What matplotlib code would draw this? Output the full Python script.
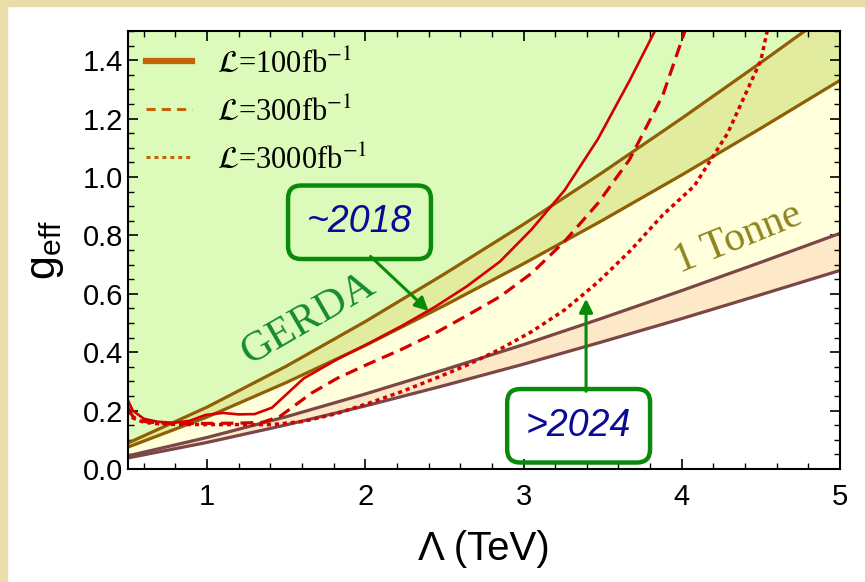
import numpy as np
import matplotlib
matplotlib.use("Agg")
import matplotlib.pyplot as plt
from matplotlib.lines import Line2D
from matplotlib.patches import Rectangle
from matplotlib.ticker import MultipleLocator, FormatStrFormatter

plt.rcParams['font.family'] = ['Liberation Sans', 'DejaVu Sans']
plt.rcParams['mathtext.fontset'] = 'custom'
plt.rcParams['mathtext.rm'] = 'Liberation Sans'
plt.rcParams['mathtext.it'] = 'Liberation Sans:italic'

# ---- data -----------------------------------------------------------------
lam_grid = [0.5, 1.0, 1.5, 2.0, 2.5, 3.0, 3.5, 4.0, 4.5, 5.0]
gerda_hi = [0.089, 0.212, 0.352, 0.505, 0.668, 0.838, 1.016, 1.201, 1.392, 1.587]
gerda_lo = [0.075, 0.178, 0.296, 0.423, 0.560, 0.703, 0.852, 1.007, 1.167, 1.331]
tonne_hi = [0.045, 0.108, 0.179, 0.257, 0.340, 0.426, 0.517, 0.611, 0.708, 0.807]
tonne_lo = [0.038, 0.091, 0.151, 0.216, 0.286, 0.359, 0.436, 0.515, 0.597, 0.680]

lhc100_lam = [0.5, 0.53, 0.60, 0.685, 0.79, 0.89, 0.99, 1.10, 1.20, 1.30, 1.41,
              1.51, 1.61, 1.82, 2.02, 2.23, 2.44, 2.64, 2.85, 3.05, 3.26, 3.47,
              3.67, 3.83]
lhc100_g = [0.235, 0.20, 0.172, 0.162, 0.158, 0.165, 0.185, 0.192, 0.187, 0.188,
            0.21, 0.26, 0.31, 0.375, 0.43, 0.49, 0.555, 0.625, 0.71, 0.82, 0.955,
            1.13, 1.33, 1.5]

lhc300_lam = [0.5, 0.53, 0.60, 0.685, 0.79, 0.99, 1.20, 1.35, 1.46, 1.56, 1.66,
              1.82, 2.02, 2.23, 2.44, 2.64, 2.85, 3.05, 3.26, 3.47, 3.67, 3.88,
              4.02]
lhc300_g = [0.21, 0.18, 0.163, 0.158, 0.156, 0.156, 0.157, 0.16, 0.18, 0.22, 0.26,
            0.31, 0.36, 0.41, 0.465, 0.525, 0.59, 0.67, 0.78, 0.91, 1.06, 1.28, 1.5]

lhc3000_lam = [0.5, 0.53, 0.60, 0.685, 0.79, 0.99, 1.20, 1.41, 1.61, 1.82, 2.02,
               2.23, 2.44, 2.64, 2.85, 3.05, 3.26, 3.47, 3.67, 3.88, 4.08, 4.29,
               4.50, 4.54]
lhc3000_g = [0.20, 0.175, 0.16, 0.155, 0.153, 0.152, 0.152, 0.152, 0.163, 0.19,
             0.225, 0.265, 0.31, 0.355, 0.41, 0.47, 0.545, 0.64, 0.745, 0.87,
             0.97, 1.15, 1.40, 1.5]

legend_labels = [r'$\mathcal{L}$=100fb$^{-1}$',
                 r'$\mathcal{L}$=300fb$^{-1}$',
                 r'$\mathcal{L}$=3000fb$^{-1}$']

# ---- colours --------------------------------------------------------------
c_green = '#DCFBBA'
c_gband = '#E1EC9E'
c_yellow = '#FFFFDC'
c_peach = '#FDE8C8'
c_brown = '#8F5E05'
c_mauve = '#7A4646'
c_red = '#D40000'
c_leg = '#C4640A'
c_box = '#0A8A0A'
c_blue = '#0A0A96'

fig = plt.figure(figsize=(8.65, 5.82), dpi=100)
fig.patch.set_facecolor('white')
fig.patches.append(Rectangle((0, 0), 7 / 865, 1, transform=fig.transFigure,
                             color='#E9DEA9', zorder=0))
fig.patches.append(Rectangle((0, 1 - 6 / 582), 1, 6 / 582, transform=fig.transFigure,
                             color='#E9DEA9', zorder=0))

ax = fig.add_axes([128 / 865, 1 - 469 / 582, 712 / 865, 438 / 582])
ax.set_xlim(0.5, 5)
ax.set_ylim(0, 1.5)

lam = np.array(lam_grid)
top = np.full_like(lam, 3.0)
ax.fill_between(lam, gerda_hi, top, color=c_green, lw=0, zorder=1)
ax.fill_between(lam, gerda_lo, gerda_hi, color=c_gband, lw=0, zorder=1)
ax.fill_between(lam, tonne_hi, gerda_lo, color=c_yellow, lw=0, zorder=1)
ax.fill_between(lam, tonne_lo, tonne_hi, color=c_peach, lw=0, zorder=1)

for ys, col in ((gerda_hi, c_brown), (gerda_lo, c_brown),
                (tonne_hi, c_mauve), (tonne_lo, c_mauve)):
    ax.plot(lam, ys, color=col, lw=2.3, zorder=2, solid_capstyle='butt')

ax.plot(lhc100_lam, lhc100_g, color=c_red, lw=1.9, zorder=3)
ax.plot(lhc300_lam, lhc300_g, color=c_red, lw=2.3, dashes=(4, 2.2), zorder=3)
ax.plot(lhc3000_lam, lhc3000_g, color=c_red, lw=2.5, dashes=(1.2, 1.1), zorder=3)

# region labels
ax.text(1.64, 0.512, 'GERDA', family='Liberation Serif', fontsize=31,
        color='#178A30', rotation=30, ha='center', va='center', zorder=4)
ax.text(4.36, 0.79, '1 Tonne', family='Liberation Serif', fontsize=30,
        color='#8E8420', rotation=22, ha='center', va='center', zorder=4)

# call-out boxes with arrows
box = dict(boxstyle='round,pad=0.5,rounding_size=0.35', fc='none',
           ec=c_box, lw=3.2)
ax.text(1.963, 0.845, '~2018', fontsize=27, style='italic', color=c_blue,
        ha='center', va='center', bbox=box, zorder=6)
ax.text(3.348, 0.148, '>2024', fontsize=27, style='italic', color=c_blue,
        ha='center', va='center', bbox=box, zorder=6)
arrow = dict(arrowstyle='-|>,head_length=0.8,head_width=0.4', color=c_box,
             lw=2.2, shrinkA=0, shrinkB=0)
ax.annotate('', xy=(2.40, 0.541), xytext=(2.033, 0.728), arrowprops=arrow,
            zorder=6)
ax.annotate('', xy=(3.395, 0.583), xytext=(3.395, 0.266), arrowprops=arrow,
            zorder=6)

# legend
handles = [Line2D([], [], color=c_leg, lw=4.5),
           Line2D([], [], color=c_leg, lw=2.2, dashes=(3, 2)),
           Line2D([], [], color=c_leg, lw=2.2, dashes=(1.3, 1.3))]
leg = ax.legend(handles, legend_labels, loc='upper left', frameon=False,
                prop={'family': 'Liberation Serif', 'size': 22},
                handlelength=1.5, handletextpad=0.8, labelspacing=0.62,
                borderaxespad=0.35, borderpad=0.25)
for t in leg.get_texts():
    t.set_math_fontfamily('stix')
leg.set_zorder(5)

# axes styling
ax.xaxis.set_major_locator(MultipleLocator(1))
ax.xaxis.set_minor_locator(MultipleLocator(0.2))
ax.yaxis.set_major_locator(MultipleLocator(0.2))
ax.yaxis.set_minor_locator(MultipleLocator(0.05))
ax.yaxis.set_major_formatter(FormatStrFormatter('%.1f'))
ax.tick_params(which='both', direction='in', top=True, right=True,
               labelsize=21, colors='black')
ax.tick_params(axis='x', which='major', pad=10)
ax.tick_params(which='major', length=7, width=1.2)
ax.tick_params(which='minor', length=4, width=1.0)
for s in ax.spines.values():
    s.set_linewidth(1.5)
    s.set_zorder(7)

ax.set_xlabel('Λ (TeV)', fontsize=29, labelpad=14)
ax.set_ylabel(r'$\mathregular{g_{eff}}$', fontsize=31, labelpad=12)

fig.savefig('out.png', dpi=100)
